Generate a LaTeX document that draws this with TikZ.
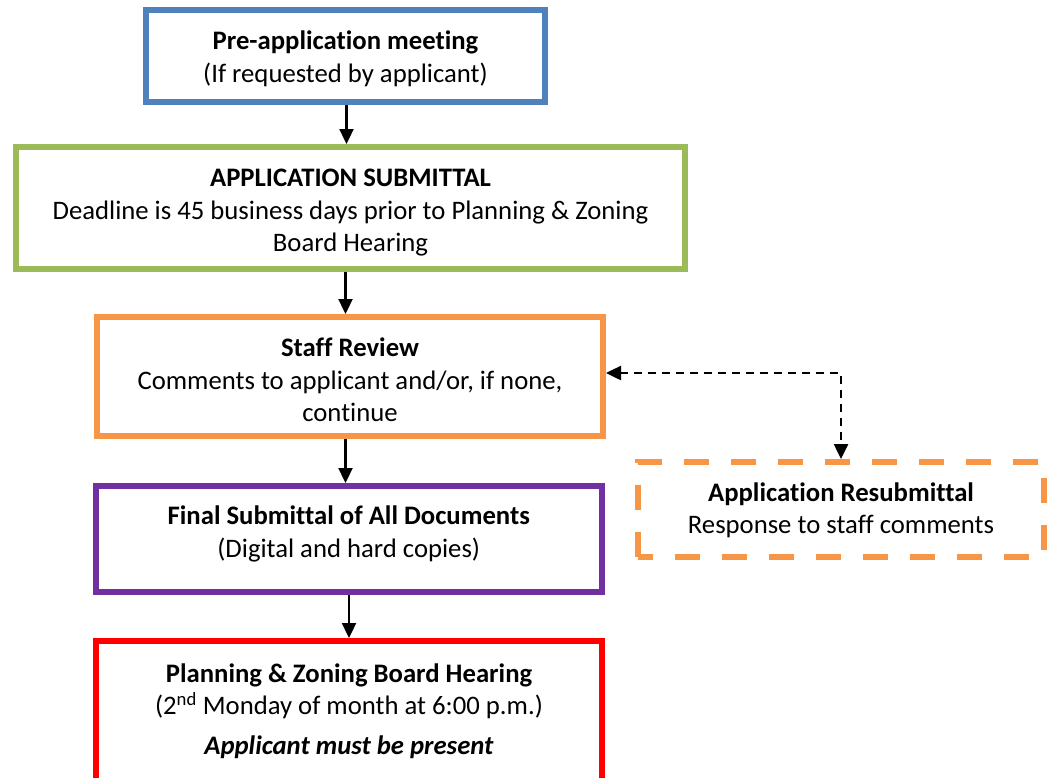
\documentclass[tikz,border=0pt]{standalone}
\usepackage{fontspec}
\setmainfont{Carlito}[Ligatures=NoCommon]
\usetikzlibrary{arrows.meta}
\definecolor{cblue}{HTML}{4F81BD}
\definecolor{cgreen}{HTML}{9BBB59}
\definecolor{corange}{HTML}{F79646}
\definecolor{cpurple}{HTML}{7030A0}
\definecolor{cred}{HTML}{FF0000}
\tikzset{
  boxbase/.style={rectangle, line width=6pt, inner sep=0pt, fill=white},
  boxtext/.style={align=center, inner sep=0pt, font=\fontsize{26.7}{32.5}\selectfont},
  flowarrow/.style={line width=2.3pt, -{Triangle[length=15pt,width=14pt]}},
  backarrow/.style={line width=2.5pt, dash pattern=on 8pt off 6pt,
    {Triangle[length=15pt,width=14pt]}-{Triangle[length=15pt,width=14pt]}},
}
\begin{document}
\begin{tikzpicture}[x=1pt,y=-1pt]
\useasboundingbox (0,0) rectangle (1055,777);
\clip (0,0) rectangle (1055,777);
\node[boxbase, draw=cblue, minimum width=399pt, minimum height=92pt] (pre) at (345.5,56) {};
\node[boxtext] (pretext) at ([yshift=-3pt]pre.center)
  {\textbf{Pre-application meeting}\\(If requested by applicant)};
\node[boxbase, draw=cgreen, minimum width=669pt, minimum height=122pt] (sub) at (350.5,208) {};
\node[boxtext] (subtext) at ([yshift=-5pt]sub.center)
  {\textbf{APPLICATION SUBMITTAL}\\Deadline is 45 business days prior to Planning \& Zoning\\Board Hearing};
\node[boxbase, draw=corange, minimum width=506pt, minimum height=119pt] (rev) at (350,376.5) {};
\node[boxtext] (revtext) at ([yshift=-3.5pt]rev.center)
  {\textbf{Staff Review}\\Comments to applicant and/or, if none,\\continue};
\node[boxbase, draw=cpurple, minimum width=505.5pt, minimum height=106pt] (fin) at (348.75,539) {};
\node[boxtext] (fintext) at ([yshift=5pt]fin.center)
  {\textbf{Final Submittal of All Documents}\\(Digital and hard copies)};
\node[boxbase, draw=cred, minimum width=506pt, minimum height=200pt, anchor=north] (hear) at (349,638) {};
\node[boxtext, anchor=north] (heartext) at ([yshift=-25.5pt]hear.north)
  {\textbf{Planning \& Zoning Board Hearing}\\(2\textsuperscript{nd} Monday of month at 6:00 p.m.)\\[7pt]\textbf{\textit{Applicant must be present}}};
\node[boxbase, draw=corange, dash pattern=on 25pt off 22pt, dash phase=10pt, minimum width=406pt, minimum height=95pt] (resub) at (841,509.5) {};
\node[boxtext] (resubtext) at ([yshift=-1pt]resub.center)
  {\textbf{Application Resubmittal}\\Response to staff comments};
\draw[flowarrow] ([xshift=1pt]pre.south) -- ([xshift=1pt]pre.south |- sub.north);
\draw[flowarrow] (sub.south -| pre.south) -- (pre.south |- rev.north);
\draw[flowarrow] (rev.south -| pre.south) -- (pre.south |- fin.north);
\draw[flowarrow] ([xshift=0.25pt]fin.south) -- ([xshift=0.25pt]fin.south |- hear.north);
\coordinate (turn) at (841,373);
\draw[backarrow] (rev.east |- turn) -- (turn) -- (resub.north);
\end{tikzpicture}
\end{document}
